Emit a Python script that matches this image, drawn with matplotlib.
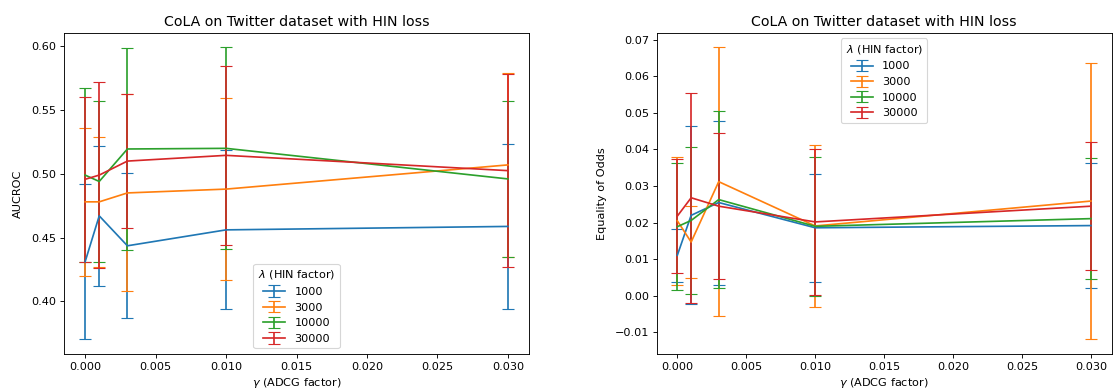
import numpy as np
import matplotlib
matplotlib.use('Agg')
import matplotlib.pyplot as plt

# valores de gamma (ADCG factor)
gammas = [0.0, 0.001, 0.003, 0.01, 0.03]
lambdas = ['1000', '3000', '10000', '30000']

# AUCROC: media y desviacion por lambda
auc_mean = {
    '1000':  [0.431, 0.467, 0.4435, 0.456, 0.4587],
    '3000':  [0.478, 0.478, 0.485, 0.488, 0.507],
    '10000': [0.499, 0.494, 0.5195, 0.520, 0.496],
    '30000': [0.4957, 0.499, 0.510, 0.5145, 0.5025],
}
auc_err = {
    '1000':  [0.061, 0.055, 0.057, 0.0625, 0.065],
    '3000':  [0.058, 0.051, 0.0773, 0.0714, 0.072],
    '10000': [0.068, 0.0635, 0.079, 0.0793, 0.061],
    '30000': [0.065, 0.0728, 0.0525, 0.070, 0.0755],
}

# Equality of Odds: media y desviacion por lambda
eo_mean = {
    '1000':  [0.0111, 0.022, 0.0255, 0.0186, 0.0192],
    '3000':  [0.0205, 0.0147, 0.0312, 0.0191, 0.0259],
    '10000': [0.0189, 0.0206, 0.0263, 0.019, 0.0211],
    '30000': [0.0218, 0.0268, 0.0245, 0.0202, 0.0245],
}
eo_err = {
    '1000':  [0.0073, 0.0243, 0.0224, 0.0147, 0.0171],
    '3000':  [0.0175, 0.0099, 0.0367, 0.0221, 0.0378],
    '10000': [0.0173, 0.020, 0.0242, 0.019, 0.0166],
    '30000': [0.0155, 0.0287, 0.020, 0.020, 0.0175],
}

dpi = 81
fig = plt.figure(figsize=(1113 / dpi, 392 / dpi), dpi=dpi)
ax1 = fig.add_axes([0.0575, 0.0969, 0.4178, 0.8196])
ax2 = fig.add_axes([0.590, 0.0969, 0.4088, 0.8196])

for lam in lambdas:
    ax1.errorbar(gammas, auc_mean[lam], yerr=auc_err[lam], capsize=5, label=lam)
    ax2.errorbar(gammas, eo_mean[lam], yerr=eo_err[lam], capsize=5, label=lam)

ax1.set_title('CoLA on Twitter dataset with HIN loss', fontsize=12.5)
ax1.set_xlabel(r'$\gamma$ (ADCG factor)')
ax1.set_ylabel('AUCROC', labelpad=7)
ax1.legend(title=r'$\lambda$ (HIN factor)', loc='lower center')

ax2.set_title('CoLA on Twitter dataset with HIN loss', fontsize=12.5)
ax2.set_xlabel(r'$\gamma$ (ADCG factor)')
ax2.set_ylabel('Equality of Odds', labelpad=7)
ax2.legend(title=r'$\lambda$ (HIN factor)', loc='upper center')

fig.savefig('out.png', dpi=dpi)
